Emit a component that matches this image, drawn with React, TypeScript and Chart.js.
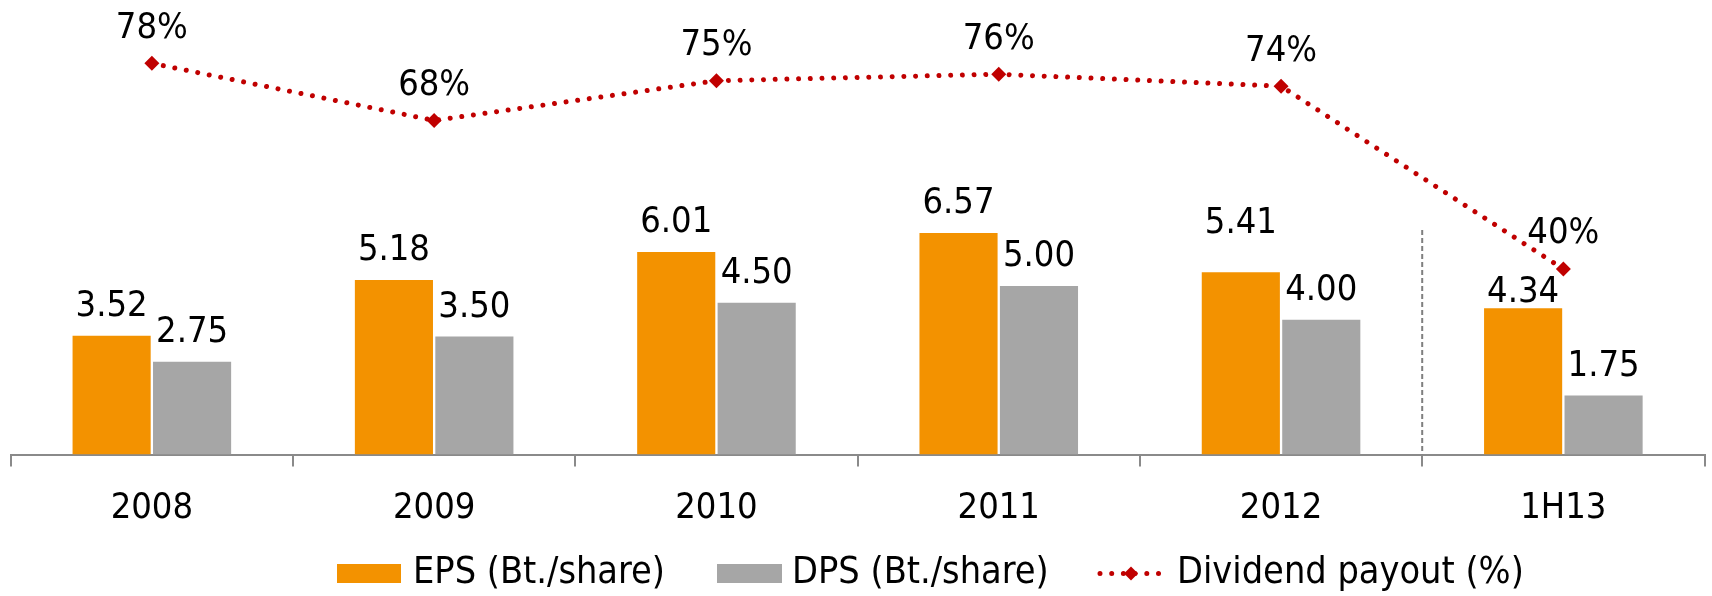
import React, { useEffect, useRef } from 'react';
import { Chart, registerables } from 'chart.js';

Chart.register(...registerables);

const categories = ['2008', '2009', '2010', '2011', '2012', '1H13'];
const epsValues = [3.52, 5.18, 6.01, 6.57, 5.41, 4.34];
const dpsValues = [2.75, 3.5, 4.5, 5.0, 4.0, 1.75];
const payoutValues = [78.1, 67.6, 74.9, 76.1, 73.9, 40.3];

const seriesNames = ['EPS (Bt./share)', 'DPS (Bt./share)', 'Dividend payout (%)'];

const ORANGE = '#F39200';
const GRAY = '#A6A6A6';
const RED = '#C00000';
const AXIS = '#8A8A8A';
const FONT = '"DejaVu Sans Condensed", "DejaVu Sans", sans-serif';
const FS = 36;
const LEGEND_FS = 37.5;

// label lift (px above bar top) for EPS labels, styling only
const epsLabelLift = [20, 20, 20, 20, 39, 6];
const dpsLabelLift = 20;
const payoutLabelLift = 25.5;

const labelsPlugin = {
  id: 'valueLabels',
  afterDatasetsDraw(chart: any) {
    const ctx = chart.ctx;
    ctx.save();
    ctx.fillStyle = '#000';
    ctx.font = `${FS}px ${FONT}`;
    ctx.textAlign = 'center';
    ctx.textBaseline = 'alphabetic';
    const m0 = chart.getDatasetMeta(0);
    m0.data.forEach((el: any, i: number) => {
      ctx.fillText(epsValues[i].toFixed(2), el.x, el.y - epsLabelLift[i]);
    });
    const m1 = chart.getDatasetMeta(1);
    m1.data.forEach((el: any, i: number) => {
      ctx.fillText(dpsValues[i].toFixed(2), el.x, el.y - dpsLabelLift);
    });
    const m2 = chart.getDatasetMeta(2);
    m2.data.forEach((el: any, i: number) => {
      ctx.fillText(Math.round(payoutValues[i]) + '%', el.x, el.y - payoutLabelLift);
    });
    ctx.restore();
  },
};

const dividerPlugin = {
  id: 'divider',
  beforeDatasetsDraw(chart: any) {
    const x = chart.scales.x;
    const px = (x.getPixelForValue(4) + x.getPixelForValue(5)) / 2;
    const ctx = chart.ctx;
    ctx.save();
    ctx.strokeStyle = '#7F7F7F';
    ctx.lineWidth = 2;
    ctx.setLineDash([5, 3]);
    ctx.beginPath();
    ctx.moveTo(px, 230);
    ctx.lineTo(px, chart.chartArea.bottom);
    ctx.stroke();
    ctx.restore();
  },
};

const legendPlugin = {
  id: 'customLegend',
  afterDraw(chart: any) {
    const ctx = chart.ctx;
    const cy = 573.5;
    ctx.save();
    ctx.font = `${LEGEND_FS}px ${FONT}`;
    ctx.textBaseline = 'middle';
    ctx.textAlign = 'left';
    // EPS
    ctx.fillStyle = ORANGE;
    ctx.fillRect(337, cy - 9.5, 64, 19);
    ctx.fillStyle = '#000';
    ctx.fillText(seriesNames[0], 413, cy);
    // DPS
    ctx.fillStyle = GRAY;
    ctx.fillRect(717, cy - 9.5, 65, 19);
    ctx.fillStyle = '#000';
    ctx.fillText(seriesNames[1], 792, cy);
    // Payout
    ctx.strokeStyle = RED;
    ctx.lineWidth = 5;
    ctx.lineCap = 'round';
    ctx.setLineDash([0.001, 11.7]);
    ctx.beginPath();
    ctx.moveTo(1100, cy);
    ctx.lineTo(1162, cy);
    ctx.stroke();
    ctx.setLineDash([]);
    ctx.fillStyle = RED;
    ctx.beginPath();
    const dx = 1131;
    ctx.moveTo(dx, cy - 7);
    ctx.lineTo(dx + 7, cy);
    ctx.lineTo(dx, cy + 7);
    ctx.lineTo(dx - 7, cy);
    ctx.closePath();
    ctx.fill();
    ctx.fillStyle = '#000';
    ctx.fillText(seriesNames[2], 1177, cy);
    ctx.restore();
  },
};

export default function App() {
  const ref = useRef<HTMLCanvasElement | null>(null);

  useEffect(() => {
    if (!ref.current) return;
    const chart = new Chart(ref.current, {
      type: 'bar',
      data: {
        labels: categories,
        datasets: [
          {
            type: 'bar',
            label: seriesNames[0],
            data: epsValues,
            backgroundColor: ORANGE,
            borderWidth: 0,
            yAxisID: 'y',
            order: 2,
            categoryPercentage: 0.57,
            barPercentage: 0.971,
          },
          {
            type: 'bar',
            label: seriesNames[1],
            data: dpsValues,
            backgroundColor: GRAY,
            borderWidth: 0,
            yAxisID: 'y',
            order: 2,
            categoryPercentage: 0.57,
            barPercentage: 0.971,
          },
          {
            type: 'line',
            label: seriesNames[2],
            data: payoutValues,
            yAxisID: 'y1',
            order: 0,
            borderColor: RED,
            borderWidth: 5,
            borderDash: [0.001, 11.7],
            borderCapStyle: 'round',
            tension: 0,
            fill: false,
            pointStyle: 'rectRot',
            pointRadius: 7.5,
            pointBackgroundColor: RED,
            pointBorderWidth: 0,
          } as any,
        ],
      },
      options: {
        responsive: false,
        animation: false,
        devicePixelRatio: 1,
        layout: { padding: { left: 10.7, right: 5, top: 14.9, bottom: 51.5 } },
        plugins: {
          legend: { display: false },
          tooltip: { enabled: false },
        },
        scales: {
          x: {
            offset: true,
            afterFit: (scale: any) => {
              scale.height = 90;
            },
            grid: {
              offset: true,
              drawOnChartArea: false,
              drawTicks: true,
              tickLength: 12,
              color: AXIS,
              lineWidth: 2,
            },
            border: { display: true, color: AXIS, width: 2 },
            ticks: {
              color: '#000',
              font: { family: FONT, size: FS },
              padding: 21,
              maxRotation: 0,
            },
          },
          y: {
            display: false,
            min: 0,
            max: 13.044,
          },
          y1: {
            display: false,
            min: 6.2,
            max: 87.0,
          },
        },
      },
      plugins: [dividerPlugin, labelsPlugin, legendPlugin],
    });
    return () => chart.destroy();
  }, []);

  return (
    <div style={{ position: 'fixed', left: 0, top: 0, width: 1712, height: 596, background: '#fff' }}>
      <canvas ref={ref} width={1712} height={596} style={{ display: 'block' }} />
    </div>
  );
}
